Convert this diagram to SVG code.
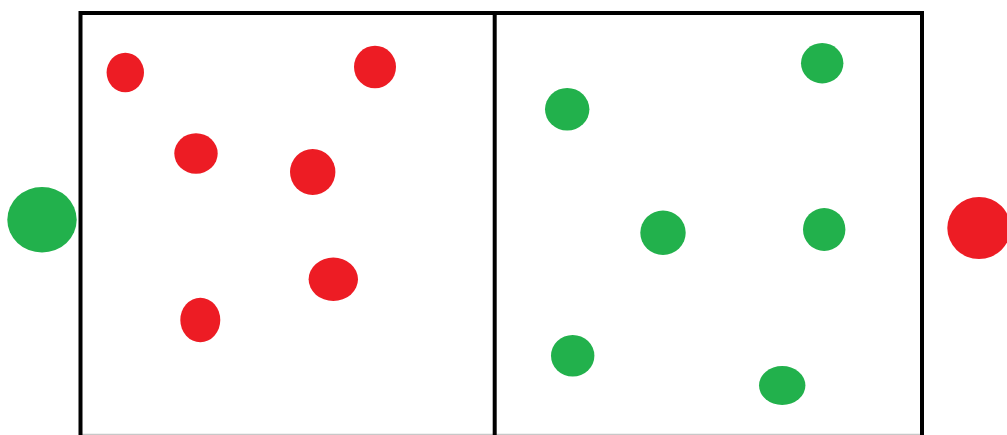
<svg xmlns="http://www.w3.org/2000/svg" width="1007" height="435" viewBox="0 0 1007 435">
<style>
.box{fill:none;stroke:#000;stroke-width:4}
.red{fill:#ED1C24}
.green{fill:#22B14C}
</style>
<rect width="1007" height="435" fill="#fff"/>
<g id="frame">
<line x1="80" y1="434.5" x2="922" y2="434.5" stroke="#c8c8c8" stroke-width="1.5"/>
<path class="box" d="M80.5 436 V13 H922 V436"/>
<line class="box" x1="494.7" y1="13" x2="494.7" y2="436"/>
</g>
<g id="left-particles">
<ellipse class="red" cx="125.3" cy="72.5" rx="18.7" ry="19.8"/>
<ellipse class="red" cx="375" cy="67" rx="21" ry="21.3"/>
<ellipse class="red" cx="196" cy="153.5" rx="21.7" ry="20.2"/>
<ellipse class="red" cx="312.7" cy="172" rx="22.7" ry="23"/>
<ellipse class="red" cx="333.3" cy="279.3" rx="24.7" ry="21.7"/>
<ellipse class="red" cx="200.3" cy="320" rx="20" ry="22.3"/>
</g>
<g id="right-particles">
<ellipse class="green" cx="822.2" cy="63.2" rx="21.2" ry="20.2"/>
<ellipse class="green" cx="567.2" cy="109.3" rx="22.2" ry="21.3"/>
<ellipse class="green" cx="663" cy="232.8" rx="22.7" ry="22.2"/>
<ellipse class="green" cx="824.2" cy="229.5" rx="21.2" ry="21.5"/>
<ellipse class="green" cx="572.7" cy="355.8" rx="21.7" ry="20.8"/>
<ellipse class="green" cx="782.2" cy="385.5" rx="23.2" ry="19.5"/>
</g>
<g id="outside-particles">
<ellipse class="green" cx="42" cy="219.8" rx="34.7" ry="32.8"/>
<ellipse class="red" cx="979" cy="228" rx="31.7" ry="31"/>
</g>
</svg>
